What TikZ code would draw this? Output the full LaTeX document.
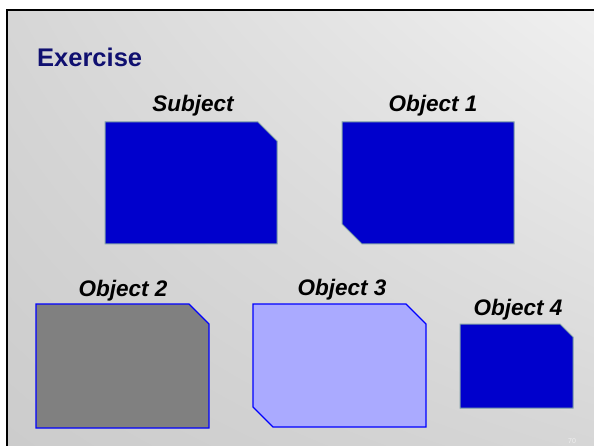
\documentclass[tikz,border=0pt]{standalone}
\usepackage{fontspec}
\setmainfont{Liberation Sans}
\usetikzlibrary{shadings}
\definecolor{titleblue}{RGB}{16,16,112}
\definecolor{deepblue}{RGB}{0,0,204}
\definecolor{edgegrey}{RGB}{128,160,168}
\definecolor{paleblue}{RGB}{170,170,255}
\definecolor{midgrey}{RGB}{128,128,128}
\definecolor{bgul}{RGB}{214,214,214}
\definecolor{bgur}{RGB}{240,240,240}
\definecolor{bgll}{RGB}{204,204,204}
\definecolor{bglr}{RGB}{214,214,214}
\definecolor{pagenum}{RGB}{240,240,240}
\begin{document}
\begin{tikzpicture}[x=1pt,y=-1pt,
  label/.style={font=\fontsize{22.5}{26}\selectfont\bfseries\itshape, anchor=base, inner sep=0pt},
  solidbox/.style={fill=deepblue, draw=edgegrey, line width=1pt},
  greybox/.style={fill=midgrey, draw=blue, line width=1.3pt},
  palebox/.style={fill=paleblue, draw=blue, line width=1.3pt}]
\useasboundingbox (0,0) rectangle (594,446);
% slide background and frame
\fill[white] (0,0) rectangle (594,446);
\shade[upper left=bgul, upper right=bgur, lower left=bgll, lower right=bglr]
  (7,10) rectangle (594,446);
\draw[black, line width=2.5pt] (7,460) -- (7,10) -- (610,10);

% title
\node[font=\fontsize{25.5}{30}\selectfont\bfseries, text=titleblue, anchor=base west, inner sep=0pt] (title) at (37,67) {Exercise};

% Subject
\draw[solidbox] (105,122) -- (258,122) -- (277,141) -- (277,244) -- (105,244) -- cycle;
\node[label] (subject) at (193,112) {Subject};

% Object 1
\draw[solidbox] (342,122) -- (514,122) -- (514,244) -- (362,244) -- (342,224) -- cycle;
\node[label] (obj1) at (433,112) {Object 1};

% Object 2
\draw[greybox] (36,304) -- (189,304) -- (209,324) -- (209,428) -- (36,428) -- cycle;
\node[label] (obj2) at (123,296) {Object 2};

% Object 3
\draw[palebox] (253,304) -- (406,304) -- (426,324) -- (426,427) -- (273,427) -- (253,407) -- cycle;
\node[label] (obj3) at (342,295) {Object 3};

% Object 4
\draw[solidbox] (460,324) -- (560,324) -- (573,337) -- (573,408) -- (460,408) -- cycle;
\node[label] (obj4) at (518,315) {Object 4};

% page number
\node[font=\fontsize{7}{8}\selectfont, text=pagenum, anchor=base, inner sep=0pt] (page) at (572,443) {70};
\end{tikzpicture}
\end{document}
